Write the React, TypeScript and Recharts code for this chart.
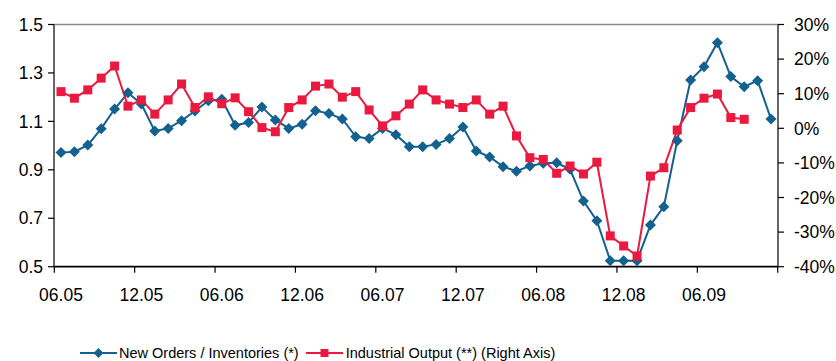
import React from 'react';
import { LineChart, Line, XAxis, YAxis, Legend, ReferenceLine } from 'recharts';

const months = [
  '06.05', '07.05', '08.05', '09.05', '10.05', '11.05', '12.05',
  '01.06', '02.06', '03.06', '04.06', '05.06', '06.06', '07.06', '08.06', '09.06', '10.06', '11.06', '12.06',
  '01.07', '02.07', '03.07', '04.07', '05.07', '06.07', '07.07', '08.07', '09.07', '10.07', '11.07', '12.07',
  '01.08', '02.08', '03.08', '04.08', '05.08', '06.08', '07.08', '08.08', '09.08', '10.08', '11.08', '12.08',
  '01.09', '02.09', '03.09', '04.09', '05.09', '06.09', '07.09', '08.09', '09.09', '10.09', '11.09',
];

// new orders / inventories ratio (left axis)
const ordersInventories = [
  0.971, 0.975, 1.002, 1.07, 1.151, 1.218, 1.172, 1.06, 1.071, 1.103, 1.143, 1.185, 1.191, 1.084,
  1.095, 1.159, 1.106, 1.071, 1.088, 1.144, 1.133, 1.11, 1.037, 1.029, 1.071, 1.045, 0.995, 0.995,
  1.005, 1.029, 1.077, 0.978, 0.953, 0.913, 0.894, 0.916, 0.927, 0.929, 0.902, 0.771, 0.69, 0.525,
  0.525, 0.525, 0.672, 0.748, 1.02, 1.271, 1.326, 1.425, 1.285, 1.243, 1.268, 1.11,
];

// industrial output, % (right axis); last two months not yet published
const industrialOutput = [
  10.6, 8.7, 11.1, 14.5, 18.0, 6.4, 8.2, 4.1, 8.2, 12.8, 6.0, 9.1, 7.1, 8.8, 4.8, 0.2, -1.0, 6.0,
  8.2, 12.2, 12.8, 9.0, 10.6, 5.3, 0.7, 3.6, 7.0, 11.1, 8.2, 7.0, 6.0, 8.2, 4.1, 6.4, -2.2, -8.5,
  -9.0, -13.0, -10.9, -13.2, -9.8, -31.1, -34.0, -36.9, -13.8, -11.4, -0.5, 6.0, 8.7, 9.9, 3.1, 2.6,
  null, null,
];

const leftTicks = [0.5, 0.7, 0.9, 1.1, 1.3, 1.5];
const rightTicks = [-40, -30, -20, -10, 0, 10, 20, 30];

const BLUE = '#13618E';
const RED = '#E9193F';
const FONT = '"Liberation Sans", Arial, sans-serif';
const STEP = 13.4;

const data = months.map((m, i) => ({
  month: m,
  orders: ordersInventories[i],
  output: industrialOutput[i],
}));

const Diamond = (props: any) => {
  const { cx, cy } = props;
  if (cx == null || cy == null) return null;
  return <polygon points={`${cx},${cy - 5.5} ${cx + 5.5},${cy} ${cx},${cy + 5.5} ${cx - 5.5},${cy}`} fill={BLUE} />;
};

const Square = (props: any) => {
  const { cx, cy, value } = props;
  if (cx == null || cy == null || value == null) return null;
  return <rect x={cx - 4.5} y={cy - 4.5} width={9} height={9} fill={RED} />;
};

const MonthTick = (props: any) => {
  const { x, y, payload } = props;
  const isLast = payload.value === '06.09';
  return (
    <g>
      <line x1={x - STEP / 2} y1={y} x2={x - STEP / 2} y2={y + 6} stroke="#000" strokeWidth={1.2} />
      {isLast && (
        <line x1={x + STEP * 5.5} y1={y} x2={x + STEP * 5.5} y2={y + 6} stroke="#000" strokeWidth={1.2} />
      )}
      <text x={x} y={y + 34} textAnchor="middle" fontSize={17.5} fontFamily={FONT} fill="#000">
        {payload.value}
      </text>
    </g>
  );
};

const LegendIcon = ({ color, square }: { color: string; square: boolean }) => (
  <svg width={37} height={12} style={{ display: 'block' }}>
    <line x1={0} y1={6} x2={37} y2={6} stroke={color} strokeWidth={2} />
    {square ? (
      <rect x={14.5} y={2} width={8} height={8} fill={color} />
    ) : (
      <polygon points="18.5,1 23.5,6 18.5,11 13.5,6" fill={color} />
    )}
  </svg>
);

const ChartLegend = () => (
  <div
    style={{
      display: 'flex',
      alignItems: 'center',
      height: 16,
      paddingLeft: 80,
      fontFamily: FONT,
      fontSize: 14.5,
      color: '#000',
      whiteSpace: 'nowrap',
    }}
  >
    <LegendIcon color={BLUE} square={false} />
    <span style={{ marginLeft: 2 }}>New Orders / Inventories (*)</span>
    <span style={{ width: 7 }} />
    <LegendIcon color={RED} square />
    <span style={{ marginLeft: 3 }}>Industrial Output (**) (Right Axis)</span>
  </div>
);

export default function App() {
  return (
    <div style={{ position: 'absolute', left: 0, top: 0, width: 836, height: 361, background: '#fff' }}>
      <LineChart width={836} height={361} data={data} margin={{ top: 24.5, right: 0, left: 0, bottom: 0 }}>
        <XAxis
          dataKey="month"
          interval={5}
          padding={{ left: 7, right: 7 }}
          height={78.3}
          tickSize={0}
          tickMargin={0}
          tickLine={false}
          axisLine={{ stroke: '#000', strokeWidth: 1.8 }}
          tick={<MonthTick />}
        />
        <YAxis
          yAxisId="left"
          domain={[0.5, 1.5]}
          ticks={leftTicks}
          tickFormatter={(v: number) => v.toFixed(1)}
          width={54}
          tickSize={6}
          tickMargin={5}
          axisLine={{ stroke: '#000', strokeWidth: 1.2 }}
          tickLine={{ stroke: '#000', strokeWidth: 1.2 }}
          tick={{ fontSize: 17.5, fontFamily: FONT, fill: '#000' }}
        />
        <YAxis
          yAxisId="right"
          orientation="right"
          domain={[-40, 30]}
          ticks={rightTicks}
          tickFormatter={(v: number) => `${v}%`}
          width={58}
          tickSize={6}
          tickMargin={10}
          axisLine={{ stroke: '#000', strokeWidth: 1.2 }}
          tickLine={{ stroke: '#000', strokeWidth: 1.2 }}
          tick={{ fontSize: 17.5, fontFamily: FONT, fill: '#000', textAnchor: 'start' }}
        />
        <ReferenceLine yAxisId="left" y={1.5} stroke="#8a8a8a" strokeWidth={1.5} />
        <Legend verticalAlign="bottom" content={<ChartLegend />} />
        <Line
          yAxisId="left"
          dataKey="orders"
          stroke={BLUE}
          strokeWidth={2}
          dot={<Diamond />}
          activeDot={false}
          isAnimationActive={false}
        />
        <Line
          yAxisId="right"
          dataKey="output"
          stroke={RED}
          strokeWidth={2}
          dot={<Square />}
          activeDot={false}
          isAnimationActive={false}
        />
      </LineChart>
    </div>
  );
}
